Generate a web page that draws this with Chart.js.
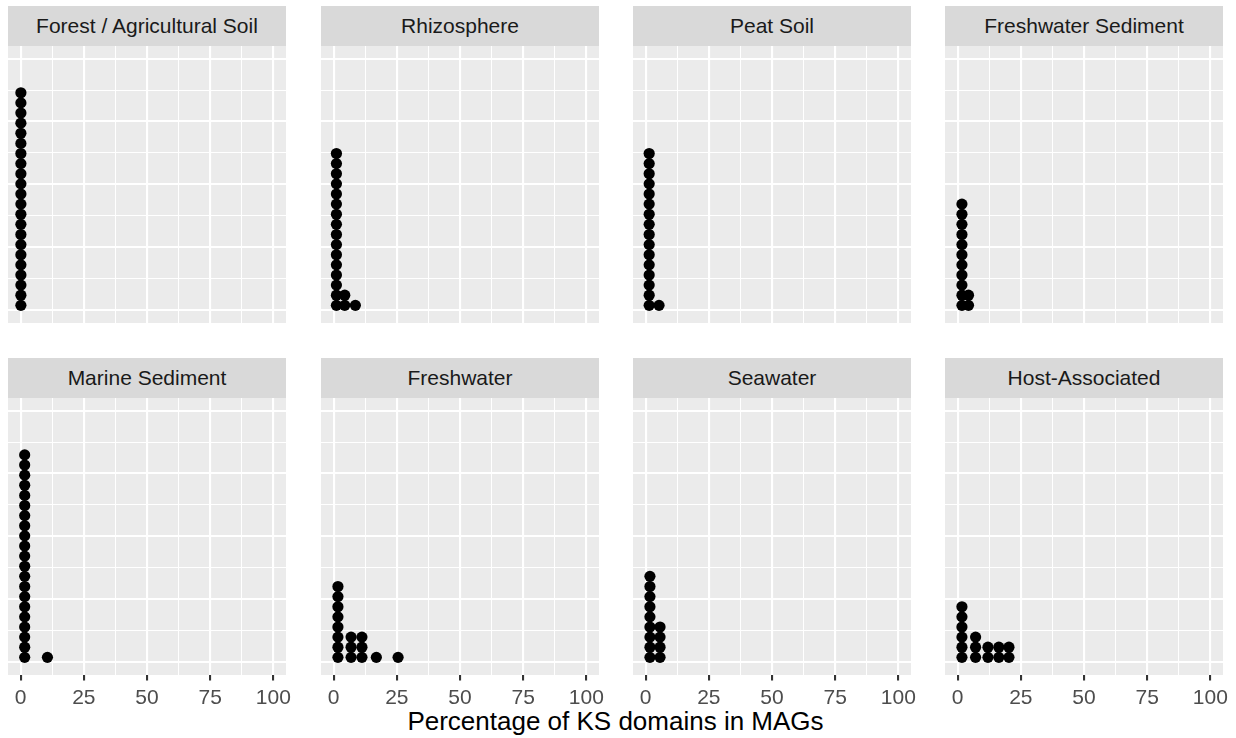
<!DOCTYPE html>
<html>
<head>
<meta charset="utf-8">
<script src="https://cdn.jsdelivr.net/npm/chart.js@4/dist/chart.umd.min.js"></script>
<style>
  html, body { margin: 0; padding: 0; background: #fff; }
  #fig { position: relative; width: 1236px; height: 738px; overflow: hidden; font-family: "Liberation Sans", Arial, sans-serif; }
  .strip { position: absolute; background: #D9D9D9; color: #1A1A1A; font-size: 21px; display: flex; align-items: center; justify-content: center; }
  .panel { position: absolute; }
  #xtitle { position: absolute; left: 0; width: 1231px; top: 706px; text-align: center; font-size: 26px; color: #000; }
</style>
</head>
<body>
<div id="fig"><div id="xtitle"></div></div>
<script>
// facet order, row by row
const panelNames = [
  'Forest / Agricultural Soil', 'Rhizosphere', 'Peat Soil', 'Freshwater Sediment',
  'Marine Sediment', 'Freshwater', 'Seawater', 'Host-Associated'
];
// dot stacks: bin centre (% KS domains) and number of MAGs stacked there
const binCentres = [
  [0.1],
  [1.1, 4.4, 8.6],
  [1.4, 5.3],
  [1.7, 4.3],
  [1.6, 10.6],
  [1.7, 6.9, 11.2, 16.9, 25.5],
  [1.7, 5.7],
  [1.7, 7.1, 12.0, 16.3, 20.3]
];
const binCounts = [
  [22],
  [16, 2, 1],
  [16, 1],
  [11, 2],
  [21, 1],
  [8, 3, 3, 1, 1],
  [9, 4],
  [6, 3, 2, 2, 2]
];
const xMajor = [0, 25, 50, 75, 100];
const xMinor = [12.5, 37.5, 62.5, 87.5];
const xTickLabels = ['0', '25', '50', '75', '100'];
const yMajor = [0, 0.25, 0.5, 0.75, 1];
const yMinor = [0.125, 0.375, 0.625, 0.875];
const xTitle = 'Percentage of KS domains in MAGs';

// dot stacking height in y units (ggplot dotplot's normalised count axis)
const stackStep = 0.0402;

Chart.defaults.font.family = '"Liberation Sans", Arial, sans-serif';

const colLeft = [8, 321, 633, 945];
const rowTop = [6, 358];
const panelW = 278, stripH = 40, panelH = 277, axisH = 45, sidePad = 14;

const panelBg = {
  id: 'panelBg',
  beforeDraw(chart) {
    const a = chart.chartArea, ctx = chart.ctx;
    ctx.save();
    ctx.fillStyle = '#EBEBEB';
    ctx.fillRect(a.left, a.top, a.right - a.left, a.bottom - a.top);
    ctx.restore();
  }
};

const fig = document.getElementById('fig');
document.getElementById('xtitle').textContent = xTitle;

function isMajor(list, v) { return list.some(m => Math.abs(m - v) < 1e-9); }

panelNames.forEach((name, i) => {
  const row = Math.floor(i / 4), col = i % 4;
  const bottomRow = row === 1;

  const strip = document.createElement('div');
  strip.className = 'strip';
  strip.style.left = colLeft[col] + 'px';
  strip.style.top = rowTop[row] + 'px';
  strip.style.width = panelW + 'px';
  strip.style.height = stripH + 'px';
  strip.textContent = name;
  fig.appendChild(strip);

  // canvas is a bit wider than the panel so the end tick labels are not cut
  const box = document.createElement('div');
  box.className = 'panel';
  box.style.left = (colLeft[col] - sidePad) + 'px';
  box.style.top = (rowTop[row] + stripH) + 'px';
  box.style.width = (panelW + 2 * sidePad) + 'px';
  box.style.height = (panelH + (bottomRow ? axisH : 0)) + 'px';
  const cv = document.createElement('canvas');
  box.appendChild(cv);
  fig.appendChild(box);

  const pts = [];
  binCentres[i].forEach((x, b) => {
    for (let k = 0; k < binCounts[i][b]; k++) pts.push({ x: x, y: (k + 0.5) * stackStep });
  });

  new Chart(cv, {
    type: 'scatter',
    data: {
      datasets: [{
        data: pts,
        backgroundColor: '#000',
        borderColor: '#000',
        borderWidth: 0,
        pointRadius: 5.6
      }]
    },
    options: {
      responsive: true,
      maintainAspectRatio: false,
      animation: false,
      events: [],
      layout: { padding: { left: sidePad, right: sidePad, top: 0, bottom: 0 }, autoPadding: false },
      plugins: { legend: { display: false }, tooltip: { enabled: false } },
      scales: {
        x: {
          type: 'linear',
          min: -5,
          max: 105,
          afterBuildTicks: s => { s.ticks = xMajor.concat(xMinor).sort((a, b) => a - b).map(v => ({ value: v })); },
          afterFit: s => {
            s.paddingLeft = 0; s.paddingRight = 0;
            s.height = bottomRow ? axisH : 0;
          },
          border: { display: false },
          grid: {
            color: '#FFFFFF',
            lineWidth: c => isMajor(xMajor, c.tick.value) ? 2.1 : 1.05,
            drawTicks: bottomRow,
            tickLength: 5.5,
            tickWidth: 2.1,
            tickColor: c => isMajor(xMajor, c.tick.value) ? '#333333' : 'rgba(0,0,0,0)'
          },
          ticks: {
            display: bottomRow,
            autoSkip: false,
            maxRotation: 0,
            padding: 5,
            color: '#4D4D4D',
            font: { size: 21 },
            callback: v => {
              const j = xMajor.findIndex(m => Math.abs(m - v) < 1e-9);
              return j >= 0 ? xTickLabels[j] : '';
            }
          }
        },
        y: {
          type: 'linear',
          min: -0.05,
          max: 1.05,
          afterBuildTicks: s => { s.ticks = yMajor.concat(yMinor).sort((a, b) => a - b).map(v => ({ value: v })); },
          afterFit: s => { s.width = 0; },
          border: { display: false },
          grid: {
            color: '#FFFFFF',
            lineWidth: c => isMajor(yMajor, c.tick.value) ? 2.1 : 1.05,
            drawTicks: false
          },
          ticks: { display: false }
        }
      }
    },
    plugins: [panelBg]
  });
});
</script>
</body>
</html>
